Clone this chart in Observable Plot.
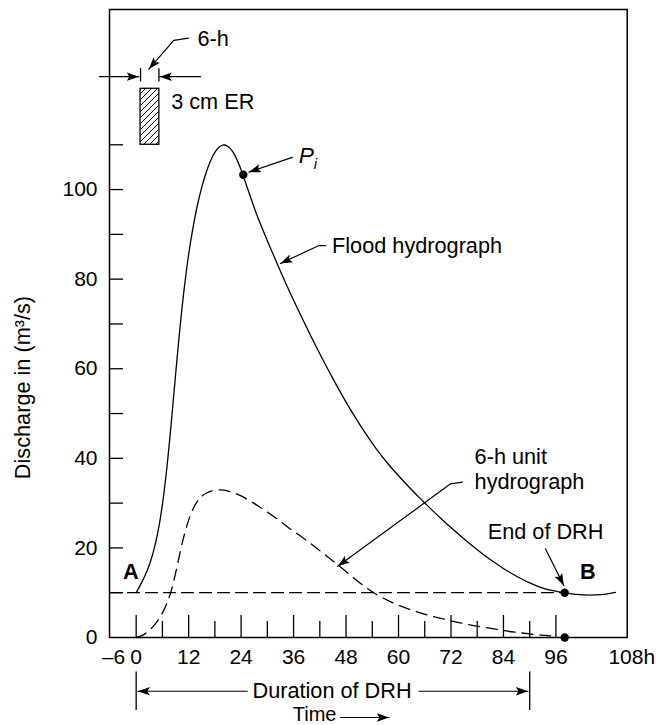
<!DOCTYPE html>
<html>
<head>
<meta charset="utf-8">
<script src="https://cdn.jsdelivr.net/npm/d3@7"></script>
<script src="https://cdn.jsdelivr.net/npm/@observablehq/plot@0.6"></script>
<style>
  html, body { margin: 0; padding: 0; background: #fff; }
  #chart { width: 656px; height: 725px; }
</style>
</head>
<body>
<div id="chart"></div>
<script>
// ---- Flood hydrograph (solid), time in h, discharge in m3/s
const floodTime = [0, 1, 2, 3, 4, 5, 6, 7, 8, 9, 10, 11, 12, 13, 14, 15, 16, 17, 18, 19, 20, 21, 22, 23, 24, 25, 27.5, 30, 32.5, 35, 37.5, 40, 42.5, 45, 47.5, 50, 52.5, 55, 57.5, 60, 62.5, 65, 67.5, 70, 72.5, 75, 77.5, 80, 82.5, 85, 87.5, 90, 92.5, 95, 97.5, 100, 102.5, 105, 107.5, 109.6];
const floodQ    = [10, 11.8, 13.8, 16.2, 19.4, 23.7, 29.7, 37.7, 47.7, 58.5, 69, 78, 85.5, 91.5, 96.5, 100.5, 103.8, 106.4, 108.3, 109.5, 110, 109.6, 108.6, 106.8, 104.4, 101.6, 94.6, 88.6, 82.9, 77.4, 72.2, 67.2, 62.4, 57.8, 53.4, 49.3, 45.5, 42.0, 38.9, 36.1, 33.5, 31.0, 28.6, 26.3, 24.1, 22.0, 20.0, 18.1, 16.4, 14.8, 13.4, 12.2, 11.2, 10.5, 10.05, 9.7, 9.5, 9.5, 9.7, 10.05];

// ---- 6-h unit hydrograph (dashed)
const unitTime = [0, 1, 2, 3, 4, 5, 6, 7, 8, 9, 10, 11, 12, 13, 14, 15, 16, 17, 18, 19, 20, 21, 22, 24, 26, 28, 30, 32.5, 35, 37.5, 40, 42.5, 45, 47.5, 50, 52.5, 55, 57.5, 60, 62.5, 65, 67.5, 70, 72.5, 75, 77.5, 80, 82.5, 85, 87.5, 90, 92.5, 94.8];
const unitQ    = [0, 0.3, 0.8, 1.6, 2.6, 3.9, 5.5, 7.6, 10.4, 14.3, 18.8, 22.9, 26.2, 28.7, 30.4, 31.5, 32.2, 32.6, 32.85, 32.95, 32.9, 32.7, 32.4, 31.6, 30.5, 29.3, 28.0, 26.3, 24.4, 22.7, 20.9, 19.0, 17.1, 15.1, 13.1, 11.2, 9.6, 8.3, 7.2, 6.3, 5.5, 4.8, 4.2, 3.6, 3.1, 2.6, 2.2, 1.8, 1.4, 1.1, 0.8, 0.55, 0.35];

// ---- axes
const xMajorTicks = [0, 12, 24, 36, 48, 60, 72, 84, 96];
const xMinorTicks = [6, 18, 30, 42, 54, 66, 78, 90];
const xTickLabels = ["0", "12", "24", "36", "48", "60", "72", "84", "96"];
const yTicks = [10, 20, 30, 40, 50, 60, 70, 80, 90, 100, 110];
const yTickLabels = [0, 20, 40, 60, 80, 100];
const xDomain = [-6.1, 112.3];
const yDomain = [0, 140.2];

// ---- key points
const baseflowQ = 10;
const drhStart = 0, drhEnd = 98, durationEnd = 90;
const piPoint = [{t: 24.5, q: 103.3}];
const endPoints = [{t: 98, q: 10}, {t: 98, q: 0}];
const rainBlock = [{t1: 1.0, t2: 5.3, q1: 110, q2: 122.5}];

// ---- annotation texts and their anchor points (data units)
const labels = [
  {t: 14.0, q: 133.7, text: "6-h"},
  {t: 8.0, q: 119.5, text: "3 cm ER"},
  {t: 44.8, q: 87.5, text: "Flood hydrograph"},
  {t: 77.4, q: 40.2, text: "6-h unit"},
  {t: 77.4, q: 34.7, text: "hydrograph"},
  {t: 80.4, q: 23.5, text: "End of DRH"}
];
const boldLabels = [{t: -3.0, q: 14.6, text: "A"}, {t: 101.5, q: 14.6, text: "B"}];
const piLabel = [{t: 37.2, q: 107.6, text: "P"}];
const piSub = [{t: 40.6, q: 105.7, text: "i"}];
const durationLabel = [{t: 44.8, q: -12.06, text: "Duration of DRH"}];
const timeLabel = [{t: 40.8, q: -17.2, text: "Time"}];
const yTitle = [{t: -25.8, q: 55.8, text: "Discharge in (m³/s)"}];

// arrows: polylines ending at an arrowhead
const arrowPaths = [
  {id: "sixh", pts: [[12.0, 133.8], [8.6, 133.3], [2.9, 126.9]]},
  {id: "left6", pts: [[-8.4, 125.2], [0.6, 125.2]]},
  {id: "right6", pts: [[14.7, 125.2], [5.4, 125.2]]},
  {id: "pi", pts: [[35.7, 107.2], [25.8, 103.9]]},
  {id: "flood", pts: [[43.3, 87.5], [41.8, 87.5], [33.0, 83.5]]},
  {id: "unit", pts: [[74.6, 34.7], [71.9, 34.3], [46.1, 15.9]]},
  {id: "end", pts: [[93.6, 19.8], [97.8, 11.6]]},
  {id: "durL", pts: [[25.4, -12.0], [0.4, -12.0]]},
  {id: "durR", pts: [[64.7, -12.0], [89.6, -12.0]]},
  {id: "time", pts: [[46.7, -17.86], [57.8, -17.86]]}
];
// plain segments (no heads)
const intervalTicks = [{t: 1.0}, {t: 5.2}];
const intervalQ = [124, 127];
const durationBars = [{t: drhStart}, {t: durationEnd}];
const durationBarQ = [-7.7, -16.3];

// ---- build tables
const flood = floodTime.map((t, i) => ({t, q: floodQ[i]}));
const unit = unitTime.map((t, i) => ({t, q: unitQ[i]}));
const arrowRows = arrowPaths.flatMap(a => a.pts.map(([t, q]) => ({id: a.id, t, q})));
const baseline = [{t: xDomain[0], q: baseflowQ}, {t: drhEnd, q: baseflowQ}];

const ns = "http://www.w3.org/2000/svg";
function filledArrow(color) {
  const m = document.createElementNS(ns, "marker");
  m.setAttribute("viewBox", "-12 -5 13 10");
  m.setAttribute("markerWidth", 13);
  m.setAttribute("markerHeight", 10);
  m.setAttribute("markerUnits", "userSpaceOnUse");
  m.setAttribute("orient", "auto");
  m.setAttribute("refX", 0);
  m.setAttribute("refY", 0);
  const p = document.createElementNS(ns, "path");
  p.setAttribute("d", "M-12,-4.2L0,0L-12,4.2L-9.5,0Z");
  p.setAttribute("fill", color === "currentColor" || !color ? "black" : color);
  p.setAttribute("stroke", "none");
  m.appendChild(p);
  return m;
}

const font = "'Liberation Sans', Arial, Helvetica, sans-serif";
const fs = 21.7;   // annotation text
const fsTick = 21; // tick labels

const chart = Plot.plot({
  width: 656,
  height: 725,
  marginLeft: 109,
  marginRight: 29.3,
  marginTop: 9,
  marginBottom: 88,
  x: {domain: xDomain, axis: null},
  y: {domain: yDomain, axis: null},
  style: {fontFamily: font, background: "white", color: "black", overflow: "visible"},
  marks: [
    Plot.frame({stroke: "black", strokeWidth: 1.5}),
    // y ticks (inward)
    Plot.tickY(yTicks, {y: d => d, stroke: "black", strokeWidth: 1.3, insetRight: 517.7 - 14}),
    // x ticks (inward, long and short)
    Plot.tickX(xMajorTicks, {x: d => d, stroke: "black", strokeWidth: 1.3, insetTop: 628 - 22}),
    Plot.tickX(xMinorTicks, {x: d => d, stroke: "black", strokeWidth: 1.3, insetTop: 628 - 16}),
    // tick labels
    Plot.text(yTickLabels, {x: xDomain[0], y: d => d, text: d => String(d), textAnchor: "end", dx: -12, fontSize: fsTick}),
    Plot.text(xMajorTicks, {x: d => d, y: -4.4, text: (d, i) => xTickLabels[i], fontSize: fsTick}),
    Plot.text(["–6"], {x: -5.2, y: -4.4, text: d => d, fontSize: fsTick}),
    Plot.text(["108h"], {x: 108, y: -4.4, text: d => d, textAnchor: "start", fontSize: fsTick}),
    Plot.text(yTitle, {x: "t", y: "q", text: "text", rotate: -90, fontSize: fs}),
    // baseflow separation line
    Plot.line(baseline, {x: "t", y: "q", stroke: "black", strokeWidth: 1.2, strokeDasharray: "12,6"}),
    // unit hydrograph
    Plot.line(unit, {x: "t", y: "q", curve: "catmull-rom", stroke: "black", strokeWidth: 1.3, strokeDasharray: "11,7"}),
    // flood hydrograph
    Plot.line(flood, {x: "t", y: "q", curve: "catmull-rom", stroke: "black", strokeWidth: 1.3}),
    // rainfall excess block
    Plot.rect(rainBlock, {x1: "t1", x2: "t2", y1: "q1", y2: "q2", fill: "url(#hatch)", stroke: "black", strokeWidth: 1.3}),
    // 6-h interval marks
    Plot.ruleX(intervalTicks, {x: "t", y1: intervalQ[0], y2: intervalQ[1], stroke: "black", strokeWidth: 1.3}),
    // duration bars
    Plot.ruleX(durationBars, {x: "t", y1: durationBarQ[0], y2: durationBarQ[1], stroke: "black", strokeWidth: 1.3}),
    // arrows
    Plot.line(arrowRows, {x: "t", y: "q", z: "id", stroke: "black", strokeWidth: 1.2, markerEnd: filledArrow}),
    // points
    Plot.dot(piPoint, {x: "t", y: "q", r: 4.2, fill: "black"}),
    Plot.dot(endPoints, {x: "t", y: "q", r: 4.2, fill: "black"}),
    // labels
    Plot.text(labels, {x: "t", y: "q", text: "text", textAnchor: "start", fontSize: fs}),
    Plot.text(boldLabels, {x: "t", y: "q", text: "text", textAnchor: "start", fontSize: fs, fontWeight: "bold"}),
    Plot.text(piLabel, {x: "t", y: "q", text: "text", textAnchor: "start", fontSize: fs + 1, fontStyle: "italic"}),
    Plot.text(piSub, {x: "t", y: "q", text: "text", textAnchor: "start", fontSize: 15, fontStyle: "italic"}),
    Plot.text(durationLabel, {x: "t", y: "q", text: "text", fontSize: fs}),
    Plot.text(timeLabel, {x: "t", y: "q", text: "text", fontSize: 20})
  ]
});

const defs = document.createElementNS(ns, "defs");
const pat = document.createElementNS(ns, "pattern");
pat.setAttribute("id", "hatch");
pat.setAttribute("patternUnits", "userSpaceOnUse");
pat.setAttribute("width", 6);
pat.setAttribute("height", 6);
const hp = document.createElementNS(ns, "path");
hp.setAttribute("d", "M-1,1L1,-1M0,6L6,0M5,7L7,5");
hp.setAttribute("stroke", "black");
hp.setAttribute("stroke-width", 1);
pat.appendChild(hp);
defs.appendChild(pat);
chart.insertBefore(defs, chart.firstChild);

document.getElementById("chart").appendChild(chart);
</script>
</body>
</html>
